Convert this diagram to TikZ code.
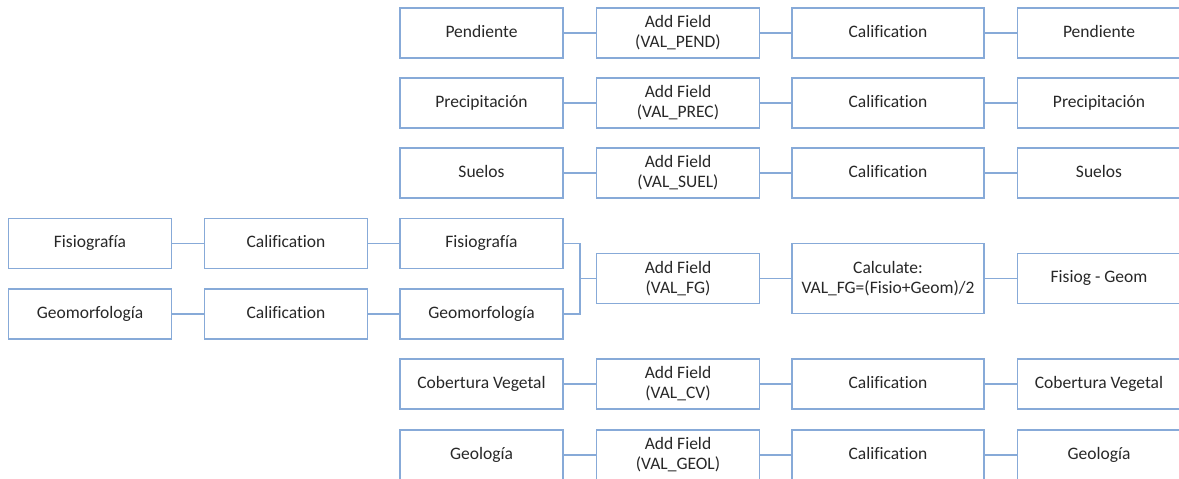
\documentclass[tikz,border=0pt]{standalone}
\usepackage{fontspec}
\setmainfont[Ligatures=NoCommon]{Carlito}
\definecolor{boxline}{RGB}{135,170,216}
\definecolor{linkline}{RGB}{135,170,216}
\definecolor{txt}{RGB}{40,40,40}
\begin{document}
\begin{tikzpicture}[x=1pt,y=-1pt,
  basebox/.style={draw=boxline, line width=1.5pt, fill=white, text=txt,
    minimum width=163pt, minimum height=50pt, inner sep=0pt, align=center,
    font=\fontsize{17.5}{20}\selectfont},
  stepbox/.style={basebox, text height=12.5pt, text depth=4pt},
  twobox/.style={basebox},
  wide/.style={minimum width=192pt},
  link/.style={draw=linkline, line width=1.5pt}]
\useasboundingbox (0,0) rectangle (1179,479);

% column centres: 90, 286, 481.5, 678, 888, 1099
% input rows
\node[stepbox] (p1) at (481.5,33) {Pendiente};
\node[twobox] (p2) at (678,33) {Add Field\\(VAL\_PEND)};
\node[stepbox, wide] (p3) at (888,33) {Calification};
\node[stepbox] (p4) at (1099,33) {Pendiente};

\node[stepbox] (r1) at (481.5,103) {Precipitación};
\node[twobox] (r2) at (678,103) {Add Field\\(VAL\_PREC)};
\node[stepbox, wide] (r3) at (888,103) {Calification};
\node[stepbox] (r4) at (1099,103) {Precipitación};

\node[stepbox] (s1) at (481.5,173) {Suelos};
\node[twobox] (s2) at (678,173) {Add Field\\(VAL\_SUEL)};
\node[stepbox, wide] (s3) at (888,173) {Calification};
\node[stepbox] (s4) at (1099,173) {Suelos};

% physiography and geomorphology branch
\node[stepbox] (f0) at (90,243.5) {Fisiografía};
\node[stepbox] (f1) at (286,243.5) {Calification};
\node[stepbox] (f2) at (481.5,243.5) {Fisiografía};

\node[stepbox] (g0) at (90,314) {Geomorfología};
\node[stepbox] (g1) at (286,314) {Calification};
\node[stepbox] (g2) at (481.5,314) {Geomorfología};

\node[twobox] (fg2) at (678,278.5) {Add Field\\(VAL\_FG)};
\node[twobox, wide, minimum height=70pt] (fg3) at (888,278.5) {Calculate:\\VAL\_FG=(Fisio+Geom)/2};
\node[stepbox] (fg4) at (1099,278.5) {Fisiog - Geom};

\node[stepbox] (c1) at (481.5,384) {Cobertura Vegetal};
\node[twobox] (c2) at (678,384) {Add Field\\(VAL\_CV)};
\node[stepbox, wide] (c3) at (888,384) {Calification};
\node[stepbox] (c4) at (1099,384) {Cobertura Vegetal};

\node[stepbox] (l1) at (481.5,455) {Geología};
\node[twobox] (l2) at (678,455) {Add Field\\(VAL\_GEOL)};
\node[stepbox, wide] (l3) at (888,455) {Calification};
\node[stepbox] (l4) at (1099,455) {Geología};

% straight links
\foreach \a/\b in {p1/p2,p2/p3,p3/p4, r1/r2,r2/r3,r3/r4, s1/s2,s2/s3,s3/s4,
                   f0/f1,f1/f2, g0/g1,g1/g2, fg2/fg3,fg3/fg4,
                   c1/c2,c2/c3,c3/c4, l1/l2,l2/l3,l3/l4}
  \draw[link] (\a.east) -- (\b.west);

% merge of the two branches
\coordinate (mj) at (580,278.5);
\draw[link] (f2.east) -| (mj) |- (g2.east);
\draw[link] (mj) -- (fg2.west);
\end{tikzpicture}
\end{document}
